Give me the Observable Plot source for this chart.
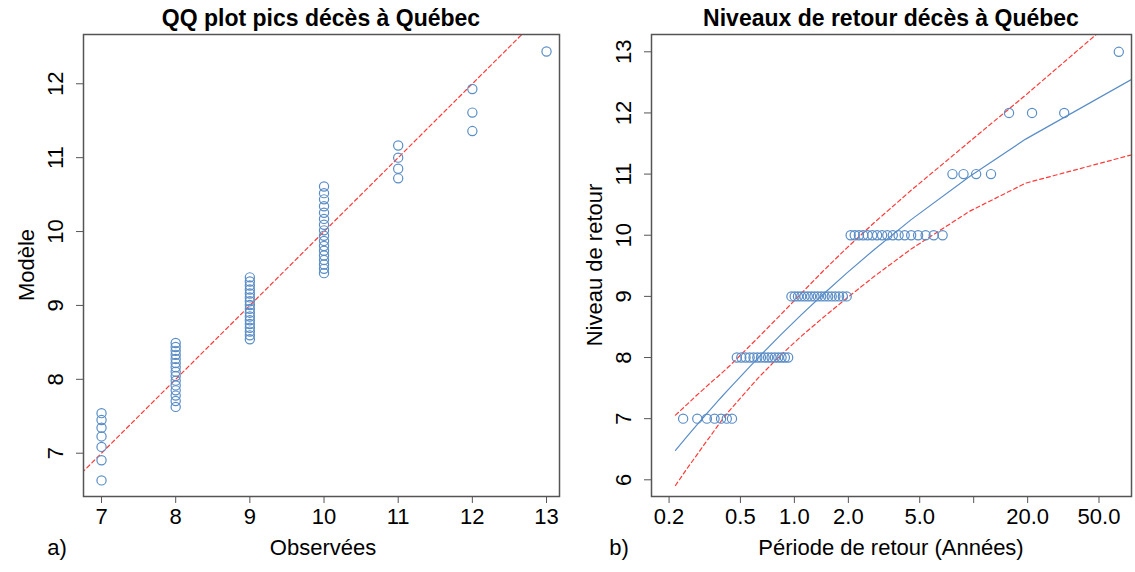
<!DOCTYPE html>
<html><head><meta charset="utf-8">
<script src="https://cdn.jsdelivr.net/npm/d3@7"></script>
<script src="https://cdn.jsdelivr.net/npm/@observablehq/plot@0.6"></script>
<style>
body{margin:0;background:#fff;}
#wrap{position:relative;width:1135px;height:572px;font-family:"Liberation Sans",Arial,sans-serif;color:#000;overflow:hidden;}
.p{position:absolute;top:0;}
.t{position:absolute;white-space:nowrap;transform:translate(-50%,-50%);font-size:22px;line-height:1;}
.title{font-weight:bold;font-size:23px;}
.rot{transform:translate(-50%,-50%) rotate(-90deg);}
</style></head><body>
<div id="wrap">
  <div id="left" class="p" style="left:0px"></div>
  <div id="right" class="p" style="left:567px"></div>
  <div class="t title" style="left:321px;top:18px">QQ plot pics décès à Québec</div>
  <div class="t title" style="left:891px;top:18px">Niveaux de retour décès à Québec</div>
  <div class="t" style="left:323px;top:548px">Observées</div>
  <div class="t" style="left:891px;top:548px">Période de retour (Années)</div>
  <div class="t" style="left:57px;top:548px">a)</div>
  <div class="t" style="left:619px;top:548px">b)</div>
  <div class="t rot" style="left:27px;top:265px">Modèle</div>
  <div class="t rot" style="left:595px;top:265px">Niveau de retour</div>
</div>
<script>
// Sorted observed annual peaks (deaths)
const observed = [7,7,7,7,7,7,7,
  8,8,8,8,8,8,8,8,8,8,8,8,8,8,8,
  9,9,9,9,9,9,9,9,9,9,9,9,9,9,9,9,9,
  10,10,10,10,10,10,10,10,10,10,10,10,10,10,10,10,10,
  11,11,11,11,
  12,12,12,
  13];
// Model (GEV) quantiles for each observation
const modelQuantiles = [6.632,6.904,7.085,7.227,7.345,7.449,7.542,
  7.627,7.706,7.780,7.851,7.918,7.982,8.044,8.104,8.163,8.220,8.276,8.331,8.385,8.438,8.491,
  8.543,8.595,8.646,8.697,8.748,8.799,8.850,8.902,8.953,9.005,9.057,9.109,9.162,9.215,9.269,9.324,9.380,
  9.437,9.495,9.554,9.614,9.676,9.740,9.805,9.873,9.943,10.016,10.092,10.171,10.255,10.343,10.436,10.52,10.61,
  10.72,10.85,11.00,11.165,
  11.36,11.61,11.93,
  12.437];
// Empirical return periods (years) of the sorted observations
const returnPeriods = [0.2396,0.2873,0.3251,0.3587,0.3899,0.4197,0.4487,
  0.4773,0.5058,0.5342,0.5629,0.5919,0.6213,0.6513,0.6820,0.7134,0.7456,0.7788,0.8130,0.8484,0.8851,0.9231,
  0.9626,1.0037,1.0466,1.0914,1.1382,1.1874,1.2390,1.2933,1.3506,1.4111,1.4752,1.5431,1.6154,1.6924,1.7747,1.8629,1.9576,
  2.0597,2.1700,2.2898,2.4202,2.5628,2.7194,2.8923,3.0841,3.2983,3.5389,3.8114,4.1227,4.4813,4.8996,5.3934,5.9859,6.7096,
  7.6138,8.7758,10.325,12.492,
  15.743,21.160,31.990,
  64.475];
// Fitted return-level curve and its confidence band
const curvePeriod = [0.2171,0.2556,0.2852,0.3107,0.3338,0.3554,0.3760,0.3959,0.4153,0.4343,0.6213,0.8306,1.0914,1.4427,1.9576,2.8037,4.4814,9.4912,19.496,99.499];
const curveLevel  = [6.482,6.730,6.893,7.019,7.123,7.214,7.294,7.367,7.434,7.496,7.982,8.358,8.697,9.031,9.380,9.772,10.255,10.962,11.572,12.741];
const curveUpper  = [7.057,7.250,7.383,7.479,7.563,7.634,7.694,7.752,7.809,7.861,8.312,8.688,9.047,9.411,9.790,10.212,10.735,11.532,12.292,14.076];
const curveLower  = [5.907,6.210,6.403,6.559,6.683,6.794,6.894,6.982,7.059,7.131,7.652,8.028,8.347,8.651,8.970,9.332,9.775,10.392,10.852,11.406];
// Reference 1:1 line extent
const identityLine = [6, 14];
// Ticks
const qqXTicks = [7,8,9,10,11,12,13];
const qqYTicks = [7,8,9,10,11,12];
const rlXTicks = [0.2,0.5,1,2,5,10,20,50];
const rlXTickLabels = ["0.2","0.5","1.0","2.0","5.0","","20.0","50.0"];
const rlYTicks = [6,7,8,9,10,11,12,13];

const blue = "#5A8DC6";
const red = "#FF3A3A";
const frameColor = "#555";
const font = {fontSize:"22px", fontFamily:"'Liberation Sans', Arial, sans-serif", background:"transparent", overflow:"visible", color:"#000"};

const rows = observed.map((v,i)=>({obs:v, model:modelQuantiles[i], period:returnPeriods[i]}));
const curve = curvePeriod.map((t,i)=>({t, level:curveLevel[i], up:curveUpper[i], lo:curveLower[i]}));
const rlXTickRows = rlXTicks.map((v,i)=>({v, label:rlXTickLabels[i]}));

const left = Plot.plot({
  width: 567, height: 572,
  marginLeft: 83, marginRight: 8, marginTop: 34, marginBottom: 76,
  style: font,
  x: {domain:[6.757, 13.175]},
  y: {domain:[6.414, 12.667]},
  marks: [
    Plot.line(identityLine, {x:d=>d, y:d=>d, stroke:red, strokeWidth:1.2, strokeDasharray:"4,3", clip:true}),
    Plot.dot(rows, {x:"obs", y:"model", r:4.6, stroke:blue, strokeWidth:1.2, fill:"none"}),
    Plot.frame({stroke:frameColor, strokeWidth:1.5}),
    Plot.axisX({ticks:qqXTicks, tickSize:7, tickPadding:5, label:null, stroke:frameColor, tickFormat:d=>String(d)}),
    Plot.axisY({ticks:qqYTicks, tickSize:7, tickPadding:14, tickRotate:-90, label:null, stroke:frameColor, tickFormat:d=>String(d)})
  ]
});
document.getElementById("left").append(left);

const right = Plot.plot({
  width: 568, height: 572,
  marginLeft: 84, marginRight: 4, marginTop: 34, marginBottom: 76,
  style: font,
  x: {type:"log", domain:[0.1596, 75.9]},
  y: {domain:[5.727, 13.283]},
  marks: [
    Plot.line(curve, {x:"t", y:"level", stroke:blue, strokeWidth:1.2, clip:true}),
    Plot.line(curve, {x:"t", y:"up", stroke:red, strokeWidth:1.2, strokeDasharray:"4,3", clip:true}),
    Plot.line(curve, {x:"t", y:"lo", stroke:red, strokeWidth:1.2, strokeDasharray:"4,3", clip:true}),
    Plot.dot(rows, {x:"period", y:"obs", r:4.6, stroke:blue, strokeWidth:1.2, fill:"none"}),
    Plot.frame({stroke:frameColor, strokeWidth:1.5}),
    Plot.axisX(rlXTickRows, {x:"v", text:"label", tickSize:7, tickPadding:5, label:null, stroke:frameColor}),
    Plot.axisY({ticks:rlYTicks, tickSize:7, tickPadding:14, tickRotate:-90, label:null, stroke:frameColor, tickFormat:d=>String(d)})
  ]
});
document.getElementById("right").append(right);
</script>
</body></html>
